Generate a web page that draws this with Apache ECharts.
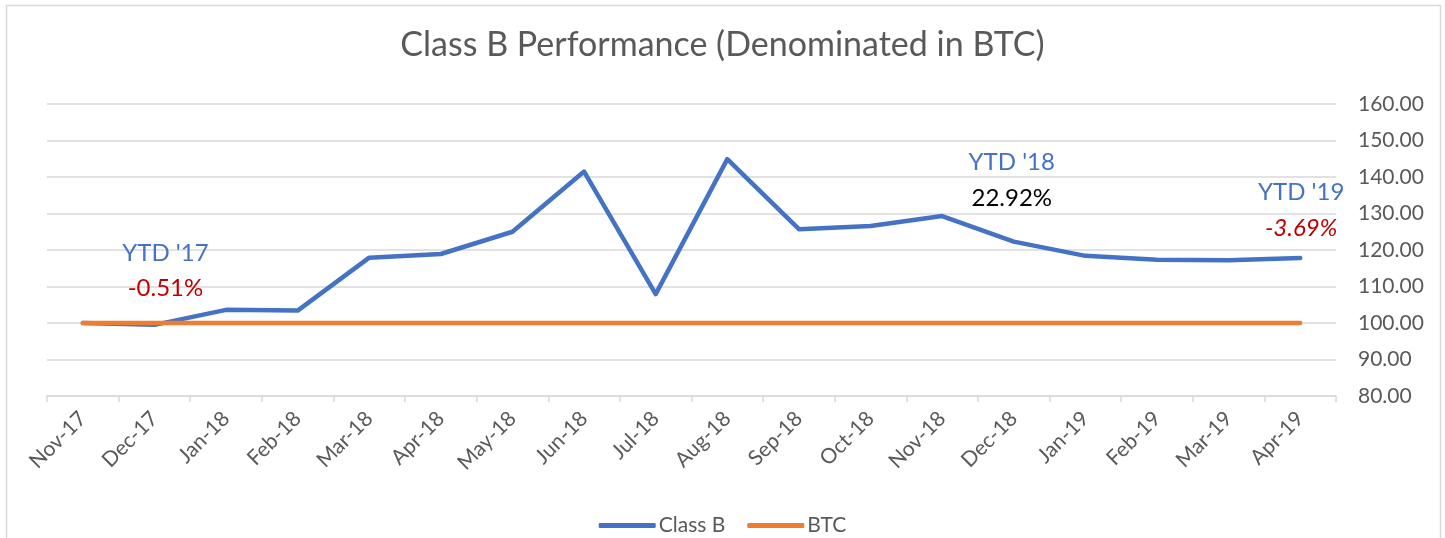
<!DOCTYPE html>
<html>
<head>
<meta charset="utf-8">
<script src="https://cdn.jsdelivr.net/npm/echarts@6/dist/echarts.min.js"></script>
<style>
  html, body { margin: 0; padding: 0; background: #fff; }
  #chart { width: 1445px; height: 538px; }
</style>
</head>
<body>
<div id="chart"></div>
<script>
// categories (month-end)
const months = ['Nov-17', 'Dec-17', 'Jan-18', 'Feb-18', 'Mar-18', 'Apr-18', 'May-18', 'Jun-18', 'Jul-18',
  'Aug-18', 'Sep-18', 'Oct-18', 'Nov-18', 'Dec-18', 'Jan-19', 'Feb-19', 'Mar-19', 'Apr-19'];

// index values, base 100
const classB = [100.00, 99.49, 103.6, 103.4, 117.9, 118.9, 125.0, 141.5, 107.9,
  144.9, 125.7, 126.6, 129.3, 122.29, 118.4, 117.3, 117.2, 117.78];
const btc = [100, 100, 100, 100, 100, 100, 100, 100, 100,
  100, 100, 100, 100, 100, 100, 100, 100, 100];

// YTD callouts
const ytdMonths = ['Dec-17', 'Dec-18', 'Apr-19'];
const ytdTitles = ["YTD '17", "YTD '18", "YTD '19"];
const ytdReturns = ['-0.51%', '22.92%', '-3.69%'];

// y axis ticks
const yMin = 80, yMax = 160, yStep = 10;

const FONT = 'Lato';
const GREY = '#595959';

const chart = echarts.init(document.getElementById('chart'));

// callout styles, one per year
const calloutStyle = [
  { dx: 11, titleDy: -72, retDy: -37, color: '#C00000', italic: false },
  { dx: -2, titleDy: -79, retDy: -43, color: '#000000', italic: false },
  { dx: 1, titleDy: -66, retDy: -30, color: '#C00000', italic: true }
];

const markData = [];
ytdMonths.forEach((m, i) => {
  const idx = months.indexOf(m);
  const st = calloutStyle[i];
  markData.push({
    coord: [m, classB[idx]],
    label: { formatter: ytdTitles[i], offset: [st.dx, st.titleDy], color: '#4472C4' }
  });
  markData.push({
    coord: [m, classB[idx]],
    label: {
      formatter: ytdReturns[i], offset: [st.dx, st.retDy], color: st.color,
      fontStyle: st.italic ? 'italic' : 'normal'
    }
  });
});

const option = {
  animation: false,
  textStyle: { fontFamily: FONT },
  title: {
    text: 'Class B Performance (Denominated in BTC)',
    left: 'center',
    top: 23,
    textStyle: { fontFamily: FONT, fontSize: 34, fontWeight: 'normal', color: GREY }
  },
  graphic: [{
    type: 'rect',
    shape: { x: 6.5, y: 5.5, width: 1434, height: 600 },
    style: { fill: 'none', stroke: '#d9d9d9', lineWidth: 1.5 },
    silent: true
  }],
  legend: {
    bottom: -3,
    left: 'center',
    icon: 'roundRect',
    itemWidth: 57,
    itemHeight: 5,
    itemGap: 22,
    textStyle: { fontFamily: FONT, fontSize: 21, color: GREY, padding: [0, 0, 0, -2] },
    data: ['Class B', 'BTC']
  },
  grid: { left: 47, right: 109, top: 104, bottom: 142, containLabel: false },
  xAxis: {
    type: 'category',
    data: months,
    boundaryGap: true,
    axisLine: { lineStyle: { color: '#d9d9d9', width: 1.5 } },
    axisTick: { show: true, length: 6, lineStyle: { color: '#d9d9d9', width: 1.5 } },
    axisLabel: { rotate: 45, margin: 19, fontFamily: FONT, fontSize: 21, color: GREY }
  },
  yAxis: {
    type: 'value',
    position: 'right',
    min: yMin,
    max: yMax,
    interval: yStep,
    axisLine: { show: false },
    axisTick: { show: false },
    splitLine: { lineStyle: { color: '#d9d9d9', width: 1.5 } },
    axisLabel: {
      margin: 22, fontFamily: FONT, fontSize: 21, color: GREY,
      formatter: v => v.toFixed(2)
    }
  },
  series: [
    {
      name: 'Class B',
      type: 'line',
      data: classB,
      showSymbol: false,
      symbol: 'none',
      color: '#4472C4',
      lineStyle: { width: 4.5, color: '#4472C4', cap: 'round', join: 'round' },
      markPoint: {
        symbol: 'circle',
        symbolSize: 0,
        silent: true,
        label: { show: true, position: 'inside', fontFamily: FONT, fontSize: 24 },
        data: markData
      },
      z: 2
    },
    {
      name: 'BTC',
      type: 'line',
      data: btc,
      showSymbol: false,
      symbol: 'none',
      color: '#ED7D31',
      lineStyle: { width: 4.5, color: '#ED7D31', cap: 'round', join: 'round' },
      z: 3
    }
  ]
};

chart.setOption(option);
</script>
</body>
</html>
